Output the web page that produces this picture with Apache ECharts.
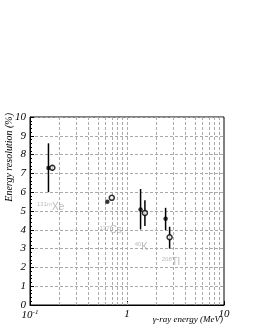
<!DOCTYPE html>
<html><head><meta charset="utf-8">
<script src="https://cdn.jsdelivr.net/npm/echarts@6/dist/echarts.min.js"></script>
<style>html,body{margin:0;padding:0;background:#fff}#c{width:255px;height:330px}</style>
</head><body><div id="c"></div>
<script>
// Data
var filledPts = [[0.155, 7.29], [0.627, 5.49], [1.38, 5.08], [2.50, 4.59]];
var openPts = [[0.170, 7.30], [0.697, 5.70], [1.53, 4.90], [2.75, 3.60]];
var filledErr = [[0.155, 6.0, 8.6], [1.38, 4.02, 6.17], [2.50, 3.98, 5.17]];
var openErr = [[0.170, 7.15, 7.45], [1.53, 4.20, 5.57], [2.75, 3.0, 4.16]];
var isoLabels = [
  {x: 0.118, y: 5.2, mass: '131m', el: 'Xe'},
  {x: 0.52, y: 3.97, mass: '137', el: 'Cs'},
  {x: 1.20, y: 3.07, mass: '40', el: 'K'},
  {x: 2.28, y: 2.28, mass: '208', el: 'Tl'}
];
var gridX = [0.2,0.3,0.4,0.5,0.6,0.7,0.8,0.9,1,2,3,4,5,6,7,8,9];
var xTicks = {0.1: '{b|10}{s|-1}', 1: '{b|1}', 10: '{b|10}'};
var yTitle = 'Energy resolution (%)';
var xTitle = 'γ-ray energy (MeV)';

var serif = 'Liberation Serif';
var chart = echarts.init(document.getElementById('c'));

function errRender(params, api) {
  var p1 = api.coord([api.value(0), api.value(1)]);
  var p2 = api.coord([api.value(0), api.value(2)]);
  return {type: 'line', shape: {x1: p1[0], y1: p1[1], x2: p2[0], y2: p2[1]},
    style: {stroke: '#000', lineWidth: 1.5}};
}

chart.setOption({
  animation: false,
  grid: {left: 30, top: 117, right: 31, bottom: 25, show: true, borderColor: '#000', borderWidth: 1,
    containLabel: false, outerBoundsMode: 'none'},
  graphic: [
    {type: 'text', left: 4, top: 113, rotation: Math.PI / 2, originX: 0, originY: 0,
      style: {text: yTitle, fontFamily: serif, fontStyle: 'italic', fontSize: 10, fill: '#000'}},
    {type: 'text', right: 32, top: 315,
      style: {text: xTitle, fontFamily: serif, fontStyle: 'italic', fontSize: 9, fill: '#000'}}
  ],
  xAxis: {
    type: 'log', logBase: 10, min: 0.1, max: 10,
    axisLine: {lineStyle: {color: '#000'}},
    axisTick: {inside: true, length: 4, lineStyle: {color: '#000'}},
    splitLine: {show: false},
    axisLabel: {
      margin: 4,
      formatter: function (v) { var k = Math.round(Math.log10(v)); return xTicks[Math.pow(10, k)] || ''; },
      rich: {
        b: {fontFamily: serif, fontStyle: 'italic', fontSize: 11, color: '#000'},
        s: {fontFamily: serif, fontStyle: 'italic', fontSize: 7, color: '#000', verticalAlign: 'top', padding: [0, 0, 6, 0]}
      }
    }
  },
  yAxis: {
    type: 'value', min: 0, max: 10, interval: 1,
    axisLine: {lineStyle: {color: '#000'}},
    axisTick: {inside: true, length: 4, lineStyle: {color: '#000'}},
    minorTick: {show: true, splitNumber: 5, length: 2, lineStyle: {color: '#000'}},
    splitLine: {show: true, lineStyle: {color: '#aaa', type: [3, 2], width: 1}},
    axisLabel: {margin: 4, fontFamily: serif, fontStyle: 'italic', fontSize: 11, color: '#000'}
  },
  series: [
    {type: 'line', data: [], silent: true,
      markLine: {silent: true, symbol: 'none', label: {show: false},
        lineStyle: {color: '#aaa', type: [3, 2], width: 1},
        data: gridX.map(function (v) { return {xAxis: v}; })}},
    {type: 'custom', renderItem: errRender, data: filledErr, z: 3},
    {type: 'custom', renderItem: errRender, data: openErr, z: 3},
    {type: 'scatter', data: filledPts, symbol: 'circle', symbolSize: 4.5, itemStyle: {color: '#000'}, z: 5},
    {type: 'scatter', data: openPts, symbol: 'circle', symbolSize: 5,
      itemStyle: {color: '#fff', borderColor: '#000', borderWidth: 1.5}, z: 5},
    {type: 'scatter', symbolSize: 0, silent: true, z: 4,
      data: isoLabels.map(function (d) { return {value: [d.x, d.y], m: d.mass, e: d.el}; }),
      label: {show: true, position: 'right', distance: 0,
        formatter: function (p) { return '{m|' + p.data.m + '}{e|' + p.data.e + '}'; },
        rich: {
          m: {fontFamily: 'Liberation Sans', fontSize: 6, color: '#aaa', verticalAlign: 'top', padding: [0, 0, 5, 0]},
          e: {fontFamily: 'Liberation Sans', fontSize: 10, color: '#aaa'}
        }}}
  ]
});
</script></body></html>
